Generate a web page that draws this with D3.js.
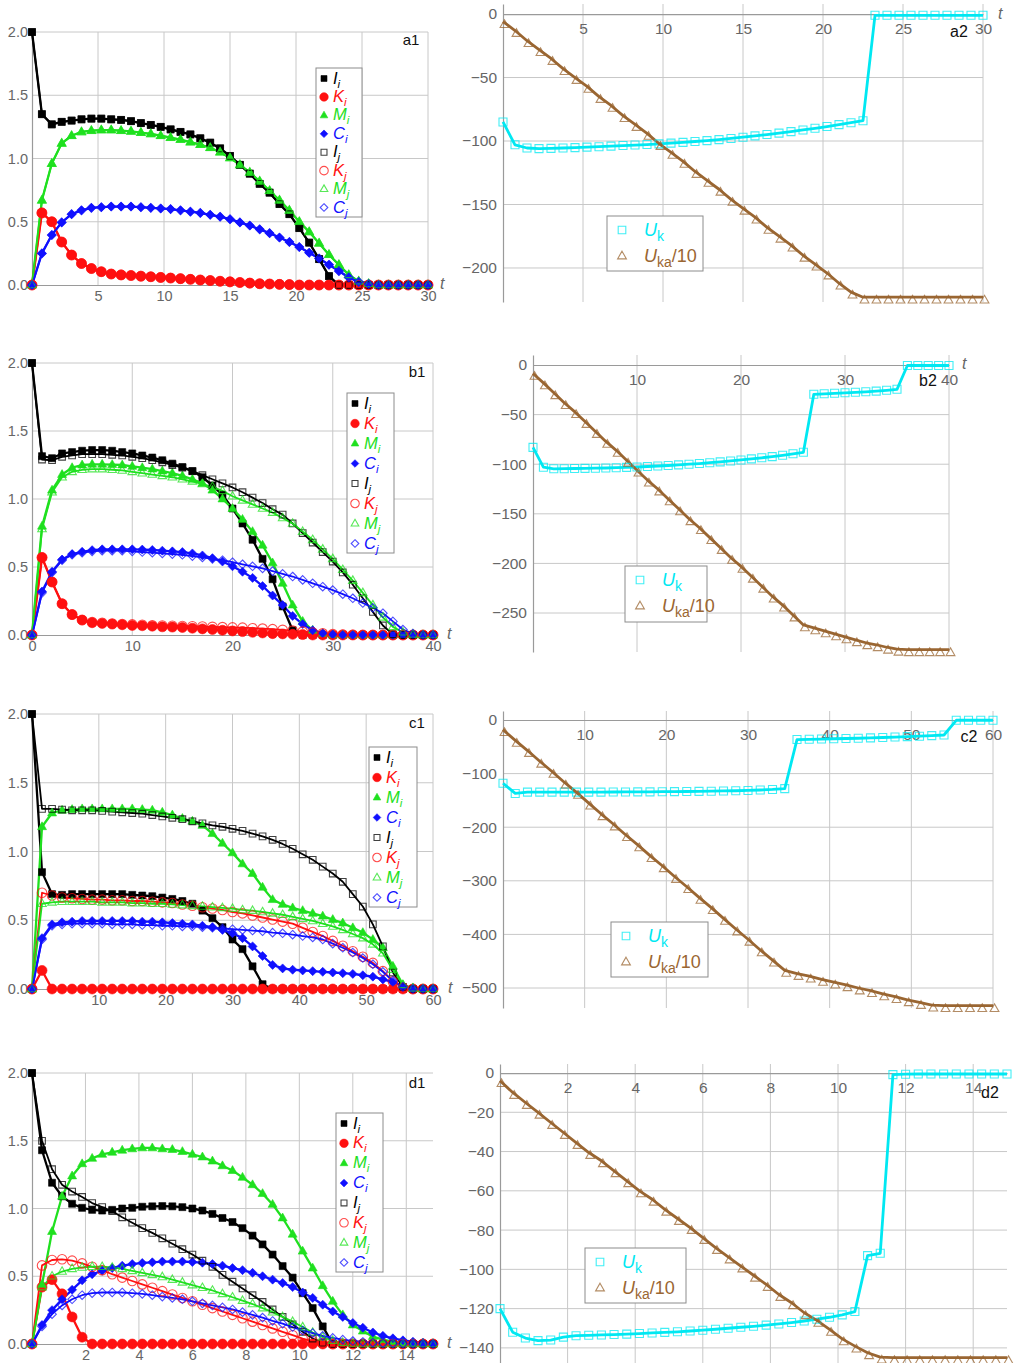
<!DOCTYPE html>
<html>
<head>
<meta charset="utf-8">
<script src="https://cdn.jsdelivr.net/npm/d3@7"></script>
<style>
  body{margin:0;background:#fff;}
  svg{display:block;font-family:"Liberation Sans",Arial,sans-serif;}
</style>
</head>
<body>
<svg id="fig" width="1016" height="1363"></svg>
<script>
/* ---------- DATA (41 samples per curve) ---------- */
/* a1 : t = 0 .. 30, step 0.75 */
const A1_Ii=[2.0,1.35,1.27,1.29,1.30,1.31,1.315,1.315,1.31,1.305,1.295,1.28,1.265,1.25,1.23,1.21,1.19,1.16,1.125,1.08,1.02,0.95,0.88,0.80,0.73,0.64,0.56,0.45,0.335,0.205,0.07,0,0,0,0,0,0,0,0,0,0];
const A1_Ki=[0,0.57,0.50,0.34,0.237,0.17,0.13,0.105,0.087,0.08,0.075,0.07,0.065,0.06,0.055,0.05,0.045,0.04,0.035,0.03,0.025,0.02,0.015,0.01,0.008,0.005,0.003,0,0,0,0,0,0,0,0,0,0,0,0,0,0];
const A1_Mi=[0,0.67,0.96,1.12,1.18,1.21,1.22,1.225,1.225,1.22,1.215,1.205,1.195,1.18,1.165,1.15,1.13,1.11,1.085,1.05,1.005,0.95,0.89,0.82,0.745,0.67,0.59,0.50,0.42,0.33,0.24,0.16,0.08,0.03,0.01,0,0,0,0,0,0];
const A1_Ci=[0,0.25,0.395,0.495,0.56,0.59,0.61,0.615,0.62,0.62,0.62,0.615,0.61,0.605,0.60,0.59,0.58,0.57,0.555,0.54,0.52,0.495,0.47,0.44,0.41,0.375,0.34,0.30,0.255,0.21,0.16,0.11,0.06,0.025,0.008,0,0,0,0,0,0];
/* in a1 the j-curves lie on top of the i-curves */
const A1_Ij=A1_Ii, A1_Kj=A1_Ki, A1_Mj=A1_Mi, A1_Cj=A1_Ci;

/* b1 : t = 0 .. 40, step 1 */
const B1_Ii=[2.0,1.315,1.30,1.335,1.345,1.355,1.36,1.36,1.355,1.345,1.335,1.32,1.305,1.285,1.26,1.235,1.205,1.16,1.10,1.03,0.93,0.82,0.70,0.56,0.41,0.21,0.035,0,0,0,0,0,0,0,0,0,0,0,0,0,0];
const B1_Ki=[0,0.57,0.39,0.23,0.15,0.11,0.09,0.085,0.08,0.075,0.07,0.068,0.065,0.06,0.058,0.055,0.05,0.045,0.04,0.035,0.03,0.025,0.02,0.015,0.01,0.008,0.005,0.003,0,0,0,0,0,0,0,0,0,0,0,0,0];
const B1_Mi=[0,0.80,1.065,1.18,1.23,1.25,1.255,1.255,1.253,1.25,1.24,1.23,1.22,1.205,1.19,1.17,1.145,1.115,1.065,1.0,0.93,0.85,0.76,0.66,0.53,0.38,0.22,0.10,0.035,0.01,0,0,0,0,0,0,0,0,0,0,0];
const B1_Ci=[0,0.32,0.465,0.555,0.595,0.612,0.624,0.63,0.63,0.63,0.63,0.628,0.625,0.62,0.615,0.61,0.60,0.585,0.565,0.54,0.505,0.465,0.42,0.36,0.29,0.22,0.14,0.08,0.035,0.012,0.004,0,0,0,0,0,0,0,0,0,0];
const B1_Ij=[2.0,1.29,1.285,1.31,1.32,1.33,1.33,1.33,1.325,1.32,1.31,1.30,1.285,1.27,1.25,1.23,1.205,1.175,1.145,1.115,1.085,1.05,1.01,0.97,0.925,0.885,0.82,0.75,0.68,0.61,0.54,0.46,0.37,0.27,0.17,0.07,0.005,0,0,0,0];
const B1_Kj=[0,0.57,0.39,0.23,0.15,0.11,0.095,0.09,0.085,0.08,0.078,0.075,0.072,0.07,0.068,0.066,0.064,0.062,0.06,0.058,0.056,0.054,0.05,0.047,0.043,0.038,0.032,0.025,0.018,0.012,0.007,0.004,0.002,0,0,0,0,0,0,0,0];
const B1_Mj=[0,0.78,1.05,1.16,1.20,1.215,1.22,1.22,1.215,1.21,1.20,1.19,1.18,1.17,1.16,1.145,1.13,1.11,1.09,1.06,1.02,0.99,0.96,0.93,0.90,0.86,0.82,0.76,0.70,0.63,0.56,0.48,0.40,0.31,0.22,0.13,0.06,0.02,0.005,0,0];
const B1_Cj=[0,0.31,0.46,0.55,0.59,0.605,0.615,0.62,0.62,0.62,0.615,0.61,0.605,0.60,0.595,0.59,0.58,0.57,0.56,0.55,0.535,0.52,0.505,0.49,0.47,0.45,0.43,0.405,0.38,0.355,0.33,0.30,0.27,0.235,0.20,0.16,0.10,0.04,0.01,0,0];

/* c1 : t = 0 .. 60, step 1.5 */
const C1_Ii=[2.0,0.85,0.69,0.685,0.69,0.69,0.69,0.69,0.69,0.69,0.685,0.68,0.675,0.665,0.655,0.64,0.62,0.57,0.515,0.45,0.36,0.29,0.165,0.035,0,0,0,0,0,0,0,0,0,0,0,0,0,0,0,0,0];
const C1_Ki=[0,0.135,0,0,0,0,0,0,0,0,0,0,0,0,0,0,0,0,0,0,0,0,0,0,0,0,0,0,0,0,0,0,0,0,0,0,0,0,0,0,0];
const C1_Mi=[0,1.18,1.28,1.30,1.305,1.31,1.31,1.31,1.31,1.31,1.31,1.305,1.30,1.285,1.265,1.24,1.22,1.19,1.13,1.06,0.99,0.91,0.84,0.74,0.65,0.615,0.59,0.57,0.55,0.53,0.505,0.48,0.445,0.41,0.36,0.30,0.165,0.03,0.005,0,0];
const C1_Ci=[0,0.37,0.47,0.485,0.49,0.495,0.495,0.495,0.495,0.495,0.495,0.49,0.49,0.485,0.48,0.475,0.47,0.46,0.45,0.43,0.405,0.37,0.31,0.24,0.175,0.15,0.14,0.135,0.13,0.125,0.12,0.115,0.11,0.10,0.09,0.07,0.05,0.02,0.005,0,0];
const C1_Ij=[2.0,1.31,1.31,1.305,1.30,1.30,1.30,1.295,1.29,1.285,1.28,1.275,1.265,1.255,1.245,1.235,1.22,1.205,1.19,1.18,1.165,1.15,1.13,1.11,1.085,1.055,1.02,0.98,0.94,0.89,0.84,0.78,0.69,0.60,0.47,0.31,0.12,0.015,0,0,0];
const C1_Kj=[0,0.70,0.68,0.665,0.66,0.655,0.65,0.65,0.645,0.645,0.64,0.64,0.635,0.63,0.625,0.615,0.605,0.595,0.585,0.575,0.56,0.55,0.535,0.52,0.505,0.49,0.475,0.445,0.415,0.385,0.35,0.315,0.275,0.235,0.19,0.13,0.055,0.01,0,0,0];
const C1_Mj=[0,0.62,0.63,0.635,0.635,0.635,0.635,0.63,0.63,0.63,0.625,0.625,0.62,0.62,0.615,0.61,0.605,0.60,0.595,0.59,0.585,0.575,0.57,0.56,0.55,0.54,0.525,0.51,0.495,0.475,0.455,0.43,0.40,0.37,0.325,0.26,0.14,0.03,0.005,0,0];
const C1_Cj=[0,0.36,0.46,0.47,0.475,0.475,0.475,0.475,0.47,0.47,0.47,0.465,0.465,0.46,0.46,0.455,0.455,0.45,0.445,0.44,0.435,0.43,0.425,0.42,0.41,0.405,0.395,0.385,0.375,0.36,0.33,0.30,0.265,0.225,0.18,0.125,0.06,0.015,0,0,0];

/* d1 : t = 0 .. 15, step 0.375 */
const D1_Ii=[2.0,1.43,1.19,1.09,1.035,1.005,0.99,0.985,0.99,1.0,1.005,1.013,1.016,1.018,1.016,1.01,1.0,0.985,0.96,0.93,0.90,0.855,0.80,0.735,0.66,0.575,0.49,0.375,0.265,0.13,0,0,0,0,0,0,0,0,0,0,0];
const D1_Ki=[0,0.42,0.475,0.37,0.20,0.05,0,0,0,0,0,0,0,0,0,0,0,0,0,0,0,0,0,0,0,0,0,0,0,0,0,0,0,0,0,0,0,0,0,0,0];
const D1_Mi=[0,0.44,0.83,1.09,1.24,1.33,1.37,1.40,1.415,1.43,1.44,1.447,1.447,1.44,1.435,1.42,1.40,1.38,1.35,1.315,1.28,1.23,1.175,1.11,1.03,0.93,0.81,0.685,0.56,0.43,0.315,0.215,0.14,0.095,0.055,0.032,0.017,0.008,0.004,0.002,0];
const D1_Ci=[0,0.14,0.25,0.33,0.40,0.47,0.515,0.54,0.56,0.578,0.59,0.598,0.603,0.608,0.608,0.608,0.605,0.60,0.59,0.578,0.56,0.545,0.525,0.50,0.475,0.45,0.42,0.38,0.34,0.29,0.24,0.20,0.155,0.12,0.085,0.06,0.042,0.027,0.017,0.01,0.005];
const D1_Ij=[2.0,1.50,1.29,1.175,1.125,1.085,1.04,1.01,0.98,0.935,0.895,0.855,0.82,0.78,0.74,0.70,0.66,0.615,0.57,0.51,0.46,0.41,0.36,0.31,0.255,0.20,0.145,0.09,0.04,0.01,0,0,0,0,0,0,0,0,0,0,0];
const D1_Kj=[0,0.58,0.62,0.625,0.615,0.595,0.57,0.545,0.515,0.49,0.465,0.44,0.415,0.39,0.365,0.34,0.315,0.29,0.265,0.24,0.215,0.19,0.165,0.14,0.115,0.09,0.065,0.04,0.02,0.005,0,0,0,0,0,0,0,0,0,0,0];
const D1_Mj=[0,0.42,0.50,0.535,0.555,0.565,0.57,0.57,0.565,0.555,0.54,0.525,0.51,0.495,0.475,0.455,0.435,0.415,0.395,0.37,0.345,0.32,0.295,0.265,0.235,0.20,0.165,0.125,0.085,0.05,0.025,0.01,0.004,0,0,0,0,0,0,0,0];
const D1_Cj=[0,0.13,0.22,0.285,0.33,0.36,0.375,0.38,0.38,0.38,0.375,0.37,0.36,0.35,0.34,0.33,0.315,0.30,0.285,0.27,0.255,0.235,0.215,0.195,0.17,0.15,0.125,0.10,0.08,0.06,0.045,0.032,0.022,0.015,0.01,0.006,0.004,0.002,0.001,0,0];

/* right column : U_k and U_ka/10 */
const A2_Uk=[-85,-103,-105.5,-106,-105.8,-105.5,-105.2,-104.8,-104.5,-104,-103.6,-103.2,-102.8,-102.3,-101.7,-101.1,-100.4,-99.7,-98.9,-98,-97,-96,-94.9,-93.8,-92.6,-91.3,-90,-88.6,-87.1,-85.6,-84,-1,-1,-1,-1,-1,-1,-1,-1,-1,-1];
const A2_Uka=[-6,-13,-21,-28,-35,-43,-50,-57,-65,-72,-80,-87,-94,-102,-109,-116,-124,-131,-138,-146,-153,-160,-168,-175,-182,-190,-197,-204,-212,-219,-223,-223,-223,-223,-223,-223,-223,-223,-223,-223,-223];
const B2_Uk=[-83,-103,-104.6,-104.5,-104.3,-104.2,-104,-103.8,-103.5,-103.2,-102.8,-102.3,-101.8,-101.3,-100.7,-100,-99.3,-98.5,-97.6,-96.7,-95.7,-94.6,-93.5,-92.3,-91,-89.5,-88,-29.5,-29,-28.5,-28,-27.5,-27,-26.3,-25.5,-24.5,-0.5,-0.5,-0.5,-0.5,-0.5];
const B2_Uka=[-8.5,-18,-28,-38,-47,-57,-67,-77,-86,-96,-106,-116,-125,-135,-145,-155,-164,-174,-184,-194,-203,-213,-223,-233,-242,-252,-262,-265,-268,-271,-274,-277,-280,-282,-284.5,-286.5,-287,-287,-287,-287,-287];
const C2_Uk=[-118,-137,-134.5,-134.5,-134.5,-134.5,-134.5,-134.5,-134.5,-134.3,-134.2,-134,-134,-133.8,-133.6,-133.4,-133.1,-132.8,-132.4,-132,-131.4,-130.6,-129.6,-128,-36.5,-36,-35.5,-35,-34.5,-34,-33.3,-32.6,-31.8,-31,-30.2,-29.2,-28,-0.5,-0.5,-0.5,-0.5];
const C2_Uka=[-18,-38,-57,-77,-96,-116,-135,-155,-175,-194,-214,-233,-253,-272,-292,-311,-331,-350,-370,-390,-409,-429,-448,-467,-473,-478,-484,-489,-494,-500,-505,-511,-516,-522,-527,-532,-533,-533,-533,-533,-533];
const D2_Uk=[-120,-132,-135,-136.3,-136,-134.5,-133.8,-133.6,-133.4,-133.2,-133,-132.7,-132.4,-132.1,-131.8,-131.4,-131,-130.5,-130,-129.5,-129,-128.4,-127.8,-127.1,-126.3,-125.4,-124.4,-123.2,-121.5,-93,-91.8,-0.8,-0.6,-0.5,-0.5,-0.5,-0.5,-0.5,-0.5,-0.5,-0.5];
const D2_Uka=[-3.9,-9.9,-15,-20,-25.2,-30.3,-35.4,-40.5,-44.7,-49.8,-54.9,-60,-64.3,-69.4,-74.1,-78.7,-83.8,-88.9,-93.7,-98.3,-103,-107.7,-112.8,-117,-122.1,-126,-130.6,-135.4,-139.1,-142.5,-144.7,-145,-145,-145,-145,-145,-145,-145,-145,-145,-145];

/* tick labels */
const A1_XT=[5,10,15,20,25,30], B1_XT=[0,10,20,30,40], C1_XT=[10,20,30,40,50,60], D1_XT=[2,4,6,8,10,12,14];
const LEFT_YT=[0,0.5,1,1.5,2];
const A2_XT=[5,10,15,20,25,30], A2_YT=[0,-50,-100,-150,-200];
const B2_XT=[10,20,30,40],     B2_YT=[0,-50,-100,-150,-200,-250];
const C2_XT=[10,20,30,40,50,60], C2_YT=[0,-100,-200,-300,-400,-500];
const D2_XT=[2,4,6,8,10,12,14], D2_YT=[0,-20,-40,-60,-80,-100,-120,-140];

/* ---------- STYLE ---------- */
const GREEN="#1fe01f", RED="#ff1010", BLUE="#1010ff", BLACK="#000";
const CYAN="#00e8f2", BROWN="#9a6632";
const LEFT_KEYS=["Ii","Ki","Mi","Ci","Ij","Kj","Mj","Cj"];
const LEFT_STYLE={
  Ii:{color:BLACK,shape:"square",  open:false,letter:"I",sub:"i"},
  Ki:{color:RED,  shape:"circle",  open:false,letter:"K",sub:"i"},
  Mi:{color:GREEN,shape:"triangle",open:false,letter:"M",sub:"i"},
  Ci:{color:BLUE, shape:"diamond", open:false,letter:"C",sub:"i"},
  Ij:{color:BLACK,shape:"square",  open:true, letter:"I",sub:"j"},
  Kj:{color:RED,  shape:"circle",  open:true, letter:"K",sub:"j"},
  Mj:{color:GREEN,shape:"triangle",open:true, letter:"M",sub:"j"},
  Cj:{color:BLUE, shape:"diamond", open:true, letter:"C",sub:"j"}
};
const GRID="#c8c8c8", AXIS="#9a9a9a", TICKTXT="#666";

/* ---------- PANELS ---------- */
const LEFT_PANELS=[
  {tag:"a1",step:0.75,tmax:30,xt:A1_XT,data:{Ii:A1_Ii,Ki:A1_Ki,Mi:A1_Mi,Ci:A1_Ci,Ij:A1_Ij,Kj:A1_Kj,Mj:A1_Mj,Cj:A1_Cj},
   box:{x0:32,x1:428,y0:285,y1:32},leg:{x:316,y:68,w:46,h:149},tagPos:[411,45],tPos:[440,289]},
  {tag:"b1",step:1,tmax:40,xt:B1_XT,data:{Ii:B1_Ii,Ki:B1_Ki,Mi:B1_Mi,Ci:B1_Ci,Ij:B1_Ij,Kj:B1_Kj,Mj:B1_Mj,Cj:B1_Cj},
   box:{x0:32,x1:433,y0:635,y1:363},leg:{x:347,y:393,w:47,h:160},tagPos:[417,377],tPos:[447,639]},
  {tag:"c1",step:1.5,tmax:60,xt:C1_XT,data:{Ii:C1_Ii,Ki:C1_Ki,Mi:C1_Mi,Ci:C1_Ci,Ij:C1_Ij,Kj:C1_Kj,Mj:C1_Mj,Cj:C1_Cj},
   box:{x0:32,x1:433,y0:989,y1:714},leg:{x:369,y:747,w:48,h:160},tagPos:[417,728],tPos:[448,993]},
  {tag:"d1",step:0.375,tmax:15,xt:D1_XT,data:{Ii:D1_Ii,Ki:D1_Ki,Mi:D1_Mi,Ci:D1_Ci,Ij:D1_Ij,Kj:D1_Kj,Mj:D1_Mj,Cj:D1_Cj},
   box:{x0:32,x1:433,y0:1344,y1:1073},leg:{x:336,y:1113,w:47,h:159},tagPos:[417,1088],tPos:[447,1348]}
];
const RIGHT_PANELS=[
  {tag:"a2",step:0.75,tmax:30,xt:A2_XT,yt:A2_YT,uk:A2_Uk,uka:A2_Uka,
   x0:503,x1:983,yDom:[-226.8,7.9],yRange:[302,4],leg:{x:607,y:216,w:96,h:55},tagPos:[959,37],tPos:[998,19]},
  {tag:"b2",step:1,tmax:40,xt:B2_XT,yt:B2_YT,uk:B2_Uk,uka:B2_Uka,
   x0:533,x1:949,yDom:[-289.3,10.1],yRange:[652,355],leg:{x:625,y:566,w:82,h:56},tagPos:[928,386],tPos:[962,369]},
  {tag:"c2",step:1.5,tmax:60,xt:C2_XT,yt:C2_YT,uk:C2_Uk,uka:C2_Uka,
   x0:503,x1:993,yDom:[-537.3,16.8],yRange:[1008,711],leg:{x:611,y:922,w:97,h:55},tagPos:[969,742],tPos:null},
  {tag:"d2",step:0.375,tmax:15,xt:D2_XT,yt:D2_YT,uk:D2_Uk,uka:D2_Uka,
   x0:500,x1:1007,yDom:[-147.7,4.6],yRange:[1363,1064],leg:{x:585,y:1248,w:101,h:55},tagPos:[990,1098],tPos:null}
];

const svg=d3.select("#fig");

/* ---------- helpers ---------- */
function shapePath(shape,r){
  if(shape==="square")   return `M${-r},${-r}h${2*r}v${2*r}h${-2*r}Z`;
  if(shape==="circle")   return `M${r},0A${r},${r} 0 1,1 ${-r},0A${r},${r} 0 1,1 ${r},0Z`;
  if(shape==="triangle") return `M0,${-r*1.1}L${r},${r*0.65}L${-r},${r*0.65}Z`;
  return `M0,${-r}L${r},0L0,${r}L${-r},0Z`;
}
const SIZE={square:3.5,circle:5,triangle:4.5,diamond:4.5};

function drawMarkers(g,pts,st,r){
  g.selectAll(null).data(pts).join("path")
    .attr("transform",d=>`translate(${d[0]},${d[1]})`)
    .attr("d",shapePath(st.shape,r))
    .attr("fill",st.open?"none":st.color)
    .attr("stroke",st.color)
    .attr("stroke-opacity",st.open?0.75:1)
    .attr("stroke-width",st.open?1.1:0.6);
}
function styleAxis(ax,size){
  ax.select(".domain").attr("stroke",AXIS).attr("stroke-width",1.2);
  ax.selectAll(".tick line").remove();
  ax.selectAll(".tick text").attr("fill",TICKTXT).style("font-size",size+"px");
}

/* ---------- LEFT PANELS ---------- */
function drawLeft(p){
  const b=p.box;
  const x=d3.scaleLinear().domain([0,p.tmax]).range([b.x0,b.x1]);
  const y=d3.scaleLinear().domain([0,2]).range([b.y0,b.y1]);
  const g=svg.append("g");

  g.selectAll(null).data(p.xt.filter(v=>v>0)).join("line")
    .attr("x1",d=>x(d)).attr("x2",d=>x(d)).attr("y1",b.y1).attr("y2",b.y0)
    .attr("stroke",GRID).attr("stroke-width",1);
  g.selectAll(null).data(LEFT_YT.filter(v=>v>0)).join("line")
    .attr("x1",b.x0).attr("x2",b.x1).attr("y1",d=>y(d)).attr("y2",d=>y(d))
    .attr("stroke",GRID).attr("stroke-width",1);

  const ax=g.append("g").attr("transform",`translate(0,${b.y0})`)
    .call(d3.axisBottom(x).tickValues(p.xt).tickSize(0).tickPadding(6).tickFormat(d3.format("d")));
  styleAxis(ax,14.5);
  const ay=g.append("g").attr("transform",`translate(${b.x0},0)`)
    .call(d3.axisLeft(y).tickValues(LEFT_YT).tickSize(0).tickPadding(4).tickFormat(d3.format(".1f")));
  styleAxis(ay,14.5);

  g.append("text").attr("x",p.tPos[0]).attr("y",p.tPos[1]).attr("fill",TICKTXT)
    .style("font-size","16px").style("font-style","italic").text("t");
  g.append("text").attr("x",p.tagPos[0]).attr("y",p.tagPos[1]).attr("text-anchor","middle")
    .style("font-size","15px").attr("fill","#111").text(p.tag);

  const line=d3.line().x(d=>d[0]).y(d=>d[1]);
  const pts={};
  LEFT_KEYS.forEach(k=>{ pts[k]=p.data[k].map((v,i)=>[x(i*p.step),y(v)]); });
  LEFT_KEYS.forEach(k=>{
    const st=LEFT_STYLE[k];
    g.append("path").attr("d",line(pts[k])).attr("fill","none")
      .attr("stroke",st.color).attr("stroke-width",st.open?1.8:2.3).attr("stroke-linejoin","round");
  });
  LEFT_KEYS.forEach(k=>{
    const st=LEFT_STYLE[k];
    drawMarkers(g,pts[k],st,SIZE[st.shape]*(st.open?0.95:1));
  });

  /* legend */
  const L=p.leg;
  const lg=g.append("g");
  lg.append("rect").attr("x",L.x).attr("y",L.y).attr("width",L.w).attr("height",L.h)
    .attr("fill","#fff").attr("stroke","#8c8c8c").attr("stroke-width",1);
  const dy=(L.h-20)/7;
  LEFT_KEYS.forEach((k,i)=>{
    const st=LEFT_STYLE[k], cy=L.y+10.5+i*dy;
    drawMarkers(lg,[[L.x+8,cy]],st,SIZE[st.shape]*0.85);
    const t=lg.append("text").attr("x",L.x+17).attr("y",cy+5).attr("fill",st.color)
      .style("font-size","16.5px");
    t.append("tspan").style("font-style","italic").text(st.letter);
    t.append("tspan").attr("dy",4).style("font-size","11.5px").style("font-style","italic").text(st.sub);
  });
}

/* ---------- RIGHT PANELS ---------- */
function drawRight(p){
  const x=d3.scaleLinear().domain([0,p.tmax]).range([p.x0,p.x1]);
  const y=d3.scaleLinear().domain(p.yDom).range(p.yRange);
  const top=p.yRange[1], bot=p.yRange[0];
  const g=svg.append("g");

  g.selectAll(null).data(p.xt).join("line")
    .attr("x1",d=>x(d)).attr("x2",d=>x(d)).attr("y1",top).attr("y2",bot)
    .attr("stroke",GRID).attr("stroke-width",1);
  g.selectAll(null).data(p.yt.filter(v=>v<0)).join("line")
    .attr("x1",p.x0).attr("x2",p.x1).attr("y1",d=>y(d)).attr("y2",d=>y(d))
    .attr("stroke",GRID).attr("stroke-width",1);

  const ax=g.append("g").attr("transform",`translate(0,${y(0)})`)
    .call(d3.axisBottom(x).tickValues(p.xt).tickSize(0).tickPadding(9).tickFormat(d3.format("d")));
  styleAxis(ax,15.5);
  const ay=g.append("g").attr("transform",`translate(${p.x0},0)`)
    .call(d3.axisLeft(y).tickValues(p.yt).tickSize(0).tickPadding(6).tickFormat(d3.format("d")));
  styleAxis(ay,15.5);

  if(p.tPos) g.append("text").attr("x",p.tPos[0]).attr("y",p.tPos[1]).attr("fill",TICKTXT)
    .style("font-size","16px").style("font-style","italic").text("t");
  g.append("text").attr("x",p.tagPos[0]).attr("y",p.tagPos[1]).attr("text-anchor","middle")
    .style("font-size","16px").attr("fill","#111").text(p.tag);

  const line=d3.line().x(d=>d[0]).y(d=>d[1]);
  const pk=p.uk.map((v,i)=>[x(i*p.step),y(v)]);
  const pa=p.uka.map((v,i)=>[x(i*p.step),y(v)]);
  g.append("path").attr("d",line(pk)).attr("fill","none").attr("stroke",CYAN)
    .attr("stroke-width",2.8).attr("stroke-linejoin","round");
  g.append("path").attr("d",line(pa)).attr("fill","none").attr("stroke",BROWN)
    .attr("stroke-width",2.8).attr("stroke-linejoin","round");
  drawMarkers(g,pk,{shape:"square",color:CYAN,open:true},4);
  drawMarkers(g,pa.map(d=>[d[0]+1.5,d[1]+3]),{shape:"triangle",color:BROWN,open:true},4.4);

  const L=p.leg;
  const lg=g.append("g");
  lg.append("rect").attr("x",L.x).attr("y",L.y).attr("width",L.w).attr("height",L.h)
    .attr("fill","#fff").attr("stroke","#8c8c8c").attr("stroke-width",1);
  const r1=L.y+14, r2=L.y+40;
  drawMarkers(lg,[[L.x+15,r1]],{shape:"square",color:CYAN,open:true},3.8);
  drawMarkers(lg,[[L.x+15,r2]],{shape:"triangle",color:BROWN,open:true},4.4);
  const t1=lg.append("text").attr("x",L.x+37).attr("y",r1+6).attr("fill",CYAN).style("font-size","18px");
  t1.append("tspan").style("font-style","italic").text("U");
  t1.append("tspan").attr("dy",5).style("font-size","14px").text("k");
  const t2=lg.append("text").attr("x",L.x+37).attr("y",r2+6).attr("fill",BROWN).style("font-size","18px");
  t2.append("tspan").style("font-style","italic").text("U");
  t2.append("tspan").attr("dy",5).style("font-size","14px").text("ka");
  t2.append("tspan").attr("dy",-5).text("/10");
}

LEFT_PANELS.forEach(drawLeft);
RIGHT_PANELS.forEach(drawRight);
</script>
</body>
</html>
